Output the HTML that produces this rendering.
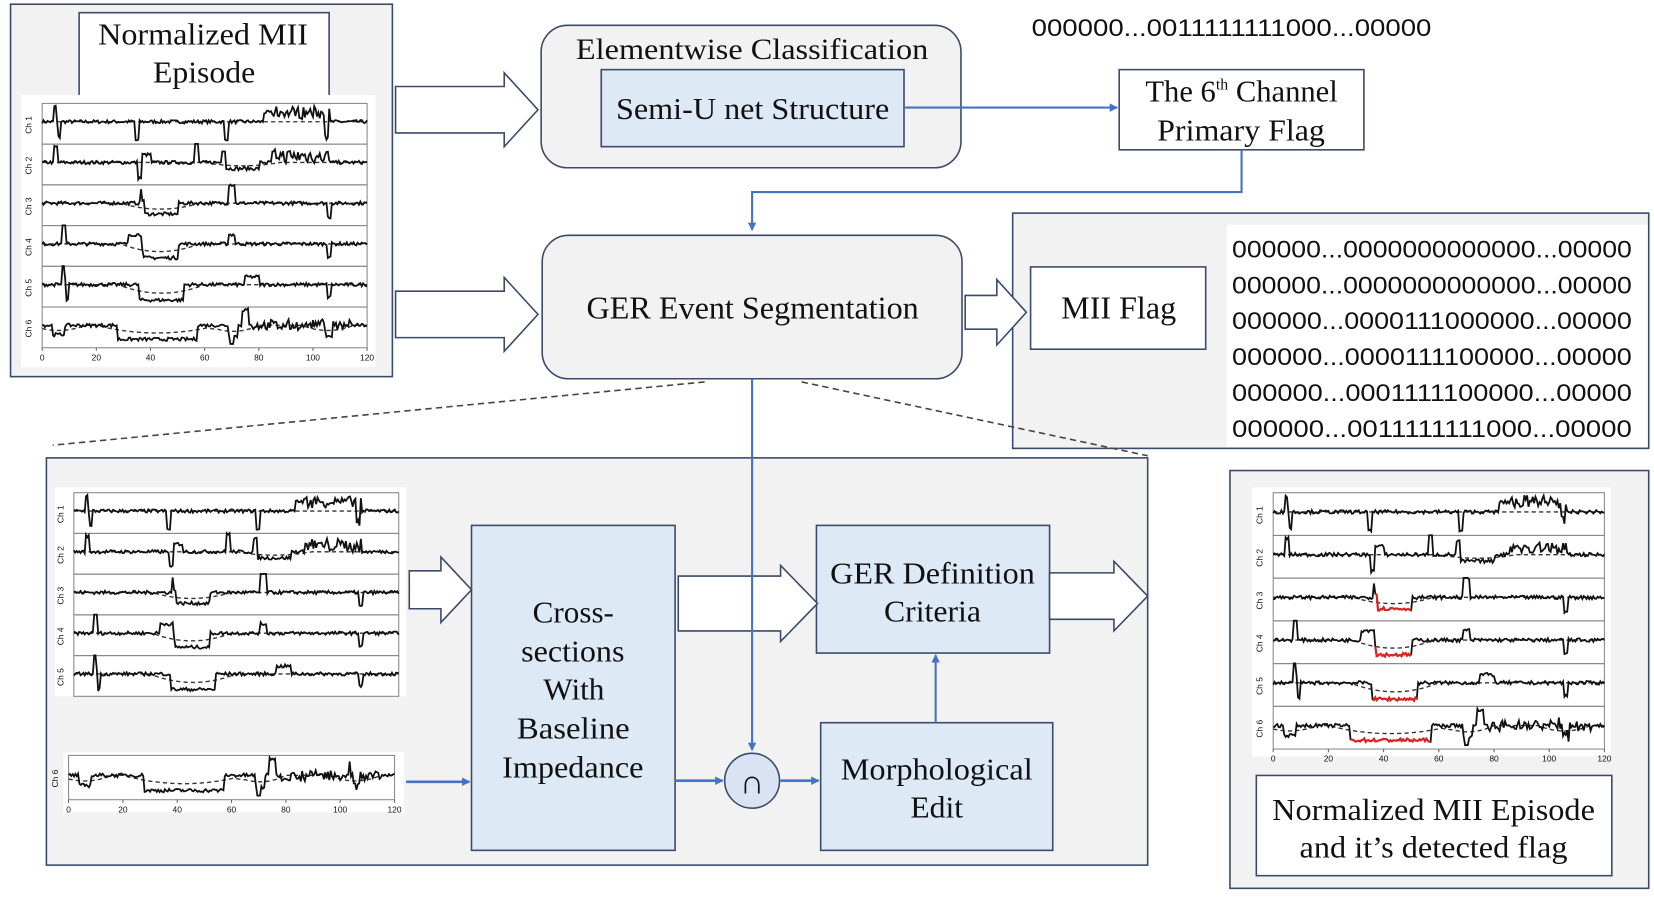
<!DOCTYPE html>
<html><head><meta charset="utf-8">
<style>
html,body{margin:0;padding:0;background:#fff;}
svg{display:block;}
text{font-family:"Liberation Serif",serif;fill:#111;}
.s{font-family:"Liberation Sans",sans-serif;}
</style></head>
<body>
<svg id="c" width="1654" height="901" viewBox="0 0 1568 854" preserveAspectRatio="none" xmlns="http://www.w3.org/2000/svg">
<defs>
<marker id="ah" markerWidth="8" markerHeight="8" refX="7" refY="4" orient="auto" markerUnits="userSpaceOnUse">
<path d="M0,0 L8,4 L0,8 z" fill="#4472c4"/></marker>
</defs>
<!-- top-left panel -->
<rect x="10" y="4" width="362" height="353" fill="#f2f2f2" stroke="#3a4a6a" stroke-width="1.5"/>
<rect x="75" y="12" width="237" height="85" fill="#fff" stroke="#3a4a6a" stroke-width="1.5"/>
<text x="93" y="42" font-size="29" textLength="199" lengthAdjust="spacingAndGlyphs">Normalized MII</text>
<text x="145" y="78" font-size="29" textLength="97" lengthAdjust="spacingAndGlyphs">Episode</text>
<rect x="20" y="90" width="336" height="258" fill="#fff"/>
<g id="p1"></g>

<!-- elementwise -->
<rect x="513" y="24" width="398" height="135" rx="25" fill="#f2f2f2" stroke="#3a4a6a" stroke-width="1.5"/>
<text x="546" y="56" font-size="28" textLength="334" lengthAdjust="spacingAndGlyphs">Elementwise Classification</text>
<rect x="570" y="66" width="287" height="73" fill="#dde9f5" stroke="#3a4a6a" stroke-width="1.5"/>
<text x="584" y="113" font-size="29" textLength="259" lengthAdjust="spacingAndGlyphs">Semi-U net Structure</text>
<line x1="858" y1="102" x2="1059" y2="102" stroke="#4472c4" stroke-width="2" marker-end="url(#ah)"/>
<text class="s" x="978" y="34" font-size="23" textLength="379" lengthAdjust="spacingAndGlyphs">000000...0011111111000...00000</text>
<rect x="1061" y="66" width="232" height="76" fill="#fff" stroke="#3a4a6a" stroke-width="1.5"/>
<text x="1177" y="96" font-size="29" text-anchor="middle">The 6<tspan font-size="15" dy="-11">th</tspan><tspan dy="11"> Channel</tspan></text>
<text x="1097" y="133" font-size="29" textLength="159" lengthAdjust="spacingAndGlyphs">Primary Flag</text>
<polyline points="1177,142 1177,182 713,182 713,218" fill="none" stroke="#4472c4" stroke-width="2" marker-end="url(#ah)"/>

<!-- GER seg -->
<rect x="514" y="223" width="398" height="136" rx="25" fill="#f2f2f2" stroke="#3a4a6a" stroke-width="1.5"/>
<text x="556" y="302" font-size="30" textLength="315" lengthAdjust="spacingAndGlyphs">GER Event Segmentation</text>

<!-- right flags panel -->
<rect x="960" y="202" width="603" height="223" fill="#f2f2f2" stroke="#3a4a6a" stroke-width="1.5"/>
<rect x="1163" y="213" width="399" height="210" fill="#fff"/>
<rect x="977" y="253" width="166" height="78" fill="#fff" stroke="#3a4a6a" stroke-width="1.5"/>
<text x="1006" y="302" font-size="30" textLength="109" lengthAdjust="spacingAndGlyphs">MII Flag</text>
<g>
<text class="s" x="1168" y="244" font-size="23" textLength="379" lengthAdjust="spacingAndGlyphs">000000...0000000000000...00000</text>
<text class="s" x="1168" y="278" font-size="23" textLength="379" lengthAdjust="spacingAndGlyphs">000000...0000000000000...00000</text>
<text class="s" x="1168" y="312" font-size="23" textLength="379" lengthAdjust="spacingAndGlyphs">000000...0000111000000...00000</text>
<text class="s" x="1168" y="346" font-size="23" textLength="379" lengthAdjust="spacingAndGlyphs">000000...0000111100000...00000</text>
<text class="s" x="1168" y="380" font-size="23" textLength="379" lengthAdjust="spacingAndGlyphs">000000...0001111100000...00000</text>
<text class="s" x="1168" y="414" font-size="23" textLength="379" lengthAdjust="spacingAndGlyphs">000000...0011111111000...00000</text>
</g>

<!-- dashed -->
<line x1="668" y1="362" x2="50" y2="422" stroke="#444" stroke-width="1.5" stroke-dasharray="6,4"/>
<line x1="760" y1="362" x2="1088" y2="432" stroke="#444" stroke-width="1.5" stroke-dasharray="6,4"/>

<!-- bottom panel -->
<rect x="44" y="434" width="1044" height="386" fill="#f2f2f2" stroke="#3a4a6a" stroke-width="1.5"/>
<rect x="52" y="462" width="333" height="198" fill="#fff"/>
<g id="p2"></g>
<rect x="60" y="713" width="323" height="57" fill="#fff"/>
<g id="p3"></g>
<rect x="447" y="498" width="193" height="308" fill="#dde9f5" stroke="#3a4a6a" stroke-width="1.5"/>
<text x="505" y="590" font-size="29" textLength="77" lengthAdjust="spacingAndGlyphs">Cross-</text>
<text x="494" y="627" font-size="29" textLength="98" lengthAdjust="spacingAndGlyphs">sections</text>
<text x="515" y="663" font-size="29" textLength="58" lengthAdjust="spacingAndGlyphs">With</text>
<text x="490" y="700" font-size="29" textLength="107" lengthAdjust="spacingAndGlyphs">Baseline</text>
<text x="476" y="737" font-size="29" textLength="134" lengthAdjust="spacingAndGlyphs">Impedance</text>
<rect x="774" y="498" width="221" height="121" fill="#dde9f5" stroke="#3a4a6a" stroke-width="1.5"/>
<text x="787" y="553" font-size="29" textLength="194" lengthAdjust="spacingAndGlyphs">GER Definition</text>
<text x="838" y="589" font-size="29" textLength="92" lengthAdjust="spacingAndGlyphs">Criteria</text>
<rect x="778" y="685" width="220" height="121" fill="#dde9f5" stroke="#3a4a6a" stroke-width="1.5"/>
<text x="797" y="739" font-size="29" textLength="182" lengthAdjust="spacingAndGlyphs">Morphological</text>
<text x="863" y="775" font-size="29" textLength="50" lengthAdjust="spacingAndGlyphs">Edit</text>
<line x1="385" y1="741" x2="445" y2="741" stroke="#4472c4" stroke-width="2.5" marker-end="url(#ah)"/>
<line x1="887" y1="685" x2="887" y2="621" stroke="#4472c4" stroke-width="2" marker-end="url(#ah)"/>
<line x1="640" y1="740" x2="685" y2="740" stroke="#4472c4" stroke-width="2.5" marker-end="url(#ah)"/>
<line x1="740" y1="740" x2="776" y2="740" stroke="#4472c4" stroke-width="2.5" marker-end="url(#ah)"/>
<g id="harrows"></g>
<line x1="713" y1="359" x2="713" y2="711" stroke="#4472c4" stroke-width="2" marker-end="url(#ah)"/>
<circle cx="713" cy="740" r="26" fill="#dae3f3" stroke="#3a4a6a" stroke-width="1.5"/>
<text x="713" y="752" font-size="32" text-anchor="middle" class="s">∩</text>

<!-- right bottom panel -->
<rect x="1166" y="446" width="397" height="396" fill="#f2f2f2" stroke="#3a4a6a" stroke-width="1.5"/>
<rect x="1187" y="462" width="340" height="255" fill="#fff"/>
<g id="p4"></g>
<rect x="1191" y="735" width="337" height="95" fill="#fff" stroke="#3a4a6a" stroke-width="1.5"/>
<text x="1206" y="777" font-size="29" textLength="306" lengthAdjust="spacingAndGlyphs">Normalized MII Episode</text>
<text x="1232" y="813" font-size="29" textLength="254" lengthAdjust="spacingAndGlyphs">and it’s detected flag</text>
</svg>
<script>
var NS="http://www.w3.org/2000/svg";
function el(p,t,a){var e=document.createElementNS(NS,t);for(var k in a)e.setAttribute(k,a[k]);p.appendChild(e);return e;}
var seed=7;function rnd(){seed=(seed*16807)%2147483647;return seed/2147483647;}
var H=document.getElementById('harrows');
function harrow(x1,x2,yc,bh,hh,hx){
 var p=[[x1,yc-bh],[hx,yc-bh],[hx,yc-hh],[x2,yc],[hx,yc+hh],[hx,yc+bh],[x1,yc+bh]];
 el(H,'polygon',{points:p.map(function(a){return a.join(',')}).join(' '),fill:'#fff',stroke:'#3a4a6a','stroke-width':1.5});
}
var specs=[
 {sp:[[5,1],[6,-1],[35,-1.2],[68,-1.2],[105,-1.3]],dip:[],bump:[[82,106,0.6]],noise:[[85,106,0.35]]},
 {sp:[[5,1],[36,-1],[57,1.2],[67,0.8]],dip:[[68,80,0.4]],bump:[[37,40,0.5],[85,106,0.4]],noise:[[85,106,0.4]]},
 {sp:[[37,0.9],[106,-0.9]],dip:[[37,50,0.7]],bump:[[69,71,1.2]],noise:[]},
 {sp:[[8,1.3],[106,-0.8]],dip:[[37,50,0.9]],bump:[[32,37,0.6],[69,71,0.6]],noise:[]},
 {sp:[[8,1.3],[9,-1],[106,-0.8]],dip:[[36,52,1.0]],bump:[[75,80,0.5]],noise:[]},
 {sp:[[70,-0.8],[104,0.6]],dip:[[4,8,0.6],[28,57,0.9],[69,72,0.7],[104,107,0.6]],bump:[[74,76,1.0]],noise:[[78,115,0.3]]}
];
function inr(t,r){return t>=r[0]&&t<=r[1];}
function val(s,t){
 var v=0.22*(rnd()-0.5);
 s.dip.forEach(function(d){if(inr(t,d))v-=d[2];});
 s.bump.forEach(function(d){if(inr(t,d))v+=d[2];});
 s.noise.forEach(function(d){if(inr(t,d))v+=d[2]*(rnd()-0.5)*2;});
 s.sp.forEach(function(d){if(Math.abs(t-d[0])<0.6)v+=d[1];});
 return v;
}
function base(s,t){var v=0;s.dip.forEach(function(d){var m=(d[0]+d[1])/2,w=(d[1]-d[0])/2+8;if(Math.abs(t-m)<w)v-=d[2]*0.55*(1-Math.pow((t-m)/w,2));});return v;}
function plot(id,x0,y0,w,rh,chs,axis,red){
 var g=document.getElementById(id);
 chs.forEach(function(ci,i){
  var yt=y0+i*rh,yc=yt+rh*0.45,a=rh*0.38,s=specs[ci];
  el(g,'rect',{x:x0,y:yt,width:w,height:rh,fill:'none',stroke:'#888','stroke-width':1});
  var bp=[],lp=[],rp=[];
  for(var t=0;t<=120;t+=0.5){
   var x=x0+t/120*w;var v=val(s,t);v=Math.max(-1.2,Math.min(1.2,v));
   var y=yc-v*a;lp.push(x.toFixed(1)+','+y.toFixed(1));
   bp.push(x.toFixed(1)+','+(yc-base(s,t)*a).toFixed(1));
   if(red&&s.dip.length&&ci>=2){var d=s.dip[ci==5?1:0];if(inr(t,d))rp.push(x.toFixed(1)+','+y.toFixed(1));}
  }
  el(g,'polyline',{points:bp.join(' '),fill:'none',stroke:'#333','stroke-width':1.3,'stroke-dasharray':'4,3'});
  el(g,'polyline',{points:lp.join(' '),fill:'none',stroke:'#111','stroke-width':1.7});
  if(rp.length)el(g,'polyline',{points:rp.join(' '),fill:'none',stroke:'#e02020','stroke-width':2});
  var tx=el(g,'text',{x:x0-10,y:yc+3,'font-size':8,'text-anchor':'middle',transform:'rotate(-90 '+(x0-10)+' '+(yc+3)+')',fill:'#666',class:'s'});
  tx.textContent='Ch '+(ci+1);
 });
 if(axis){var yb=y0+chs.length*rh;for(var k=0;k<=6;k++){var x=x0+k*w/6;el(g,'line',{x1:x,y1:yb,x2:x,y2:yb+3,stroke:'#666'});var t=el(g,'text',{x:x,y:yb+12,'font-size':8,'text-anchor':'middle',fill:'#555',class:'s'});t.textContent=k*20;}}
}
plot('p1',40,98,308,38.6,[0,1,2,3,4,5],true,false);
plot('p2',70,467,308,38.6,[0,1,2,3,4],false,false);
plot('p3',65,716,309,42,[5],true,false);
plot('p4',1207,467,314,40.5,[0,1,2,3,4,5],true,true);
harrow(375,510,104,22,35,478);
harrow(375,510,298,22,35,478);
harrow(915,973,296,16,31,945);
harrow(388,447,559,18,31,418);
harrow(643,775,572,26,36,740);
harrow(995,1088,565,22,33,1056);
</script>
</body></html>
